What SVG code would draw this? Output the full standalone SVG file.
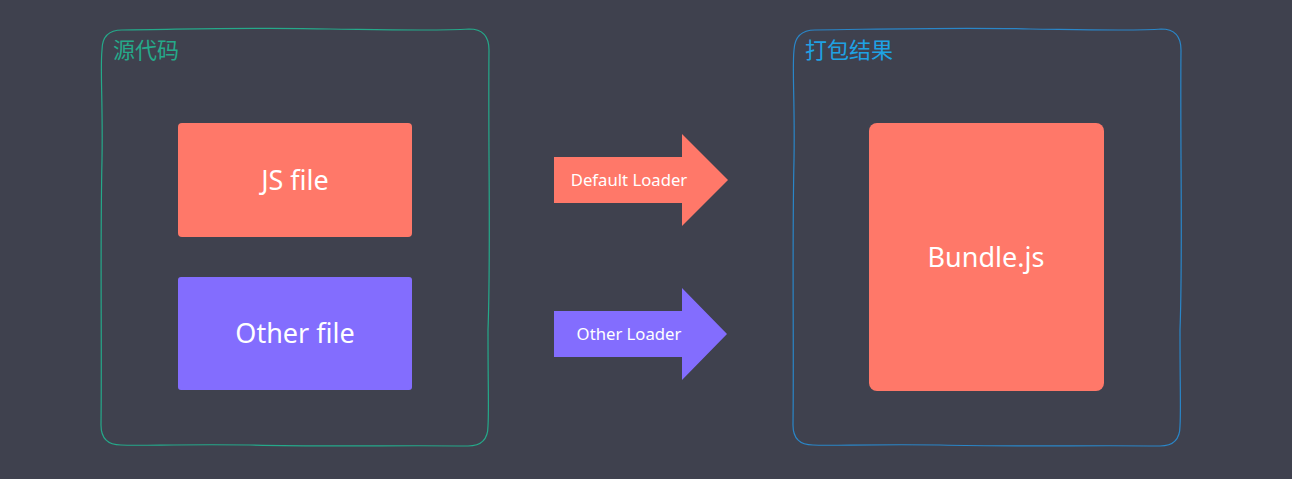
<svg xmlns="http://www.w3.org/2000/svg" width="1292" height="479" viewBox="0 0 1292 479">
<style>
.frame{fill:none;stroke-width:1.2}
.lbl{font-family:"Noto Sans","Noto Sans CJK SC",sans-serif;font-size:22px}
.node text{font-family:"Noto Sans",sans-serif;fill:#ffffff;text-anchor:middle;dominant-baseline:central}
.big{font-size:27px}
.small{font-size:16.7px}
.salmon{fill:#ff7869}
.purple{fill:#836dfe}
</style>
<rect width="1292" height="479" fill="#3f414e"/>
<g id="frame-source">
<path class="frame" stroke="#25a98a" d="M122,30 C200,29 260,27 330,29 C400,30 440,31 469,29 Q489,29 489,50 C488,150 491,250 488,330 C488,390 489,410 488,426 Q488,446 468,446 C400,445 330,447 250,445 C180,444 140,446 121,445 Q101,445 101,425 C102,340 100,250 102,160 C103,100 100,70 102,50 Q102,30 122,30 Z"/>
<text class="lbl" x="113" y="58" fill="#25a98a">源代码</text>
</g>
<g id="frame-bundle">
<path class="frame" stroke="#2a86c8" d="M815,30 C890,29 960,27 1030,29 C1100,30 1140,31 1161,29 Q1181,29 1181,50 C1180,150 1183,250 1180,330 C1180,390 1181,410 1180,426 Q1180,446 1160,446 C1090,445 1020,447 940,445 C870,444 830,446 813,445 Q793,445 793,425 C794,340 792,250 794,160 C795,100 792,70 794,50 Q795,30 815,30 Z"/>
<text class="lbl" x="805" y="58" fill="#1ea2e4">打包结果</text>
</g>
<g id="js-file" class="node">
<rect class="salmon" x="178" y="123" width="234" height="114" rx="4"/>
<text class="big" x="295" y="179">JS file</text>
</g>
<g id="other-file" class="node">
<rect class="purple" x="178" y="277" width="234" height="113" rx="3"/>
<text class="big" x="295" y="332">Other file</text>
</g>
<g id="bundle" class="node">
<rect class="salmon" x="869" y="123" width="235" height="268" rx="8"/>
<text class="big" x="986" y="256">Bundle.js</text>
</g>
<g id="connectors">
<g id="default-loader" class="node">
<polygon class="salmon" points="554,157 682,157 682,134 728,180 682,226 682,203 554,203"/>
<text class="small" x="629" y="179">Default Loader</text>
</g>
<g id="other-loader" class="node">
<polygon class="purple" points="554,311 682,311 682,288 727,334 682,380 682,357 554,357"/>
<text class="small" x="629" y="333">Other Loader</text>
</g>
</g>
</svg>
